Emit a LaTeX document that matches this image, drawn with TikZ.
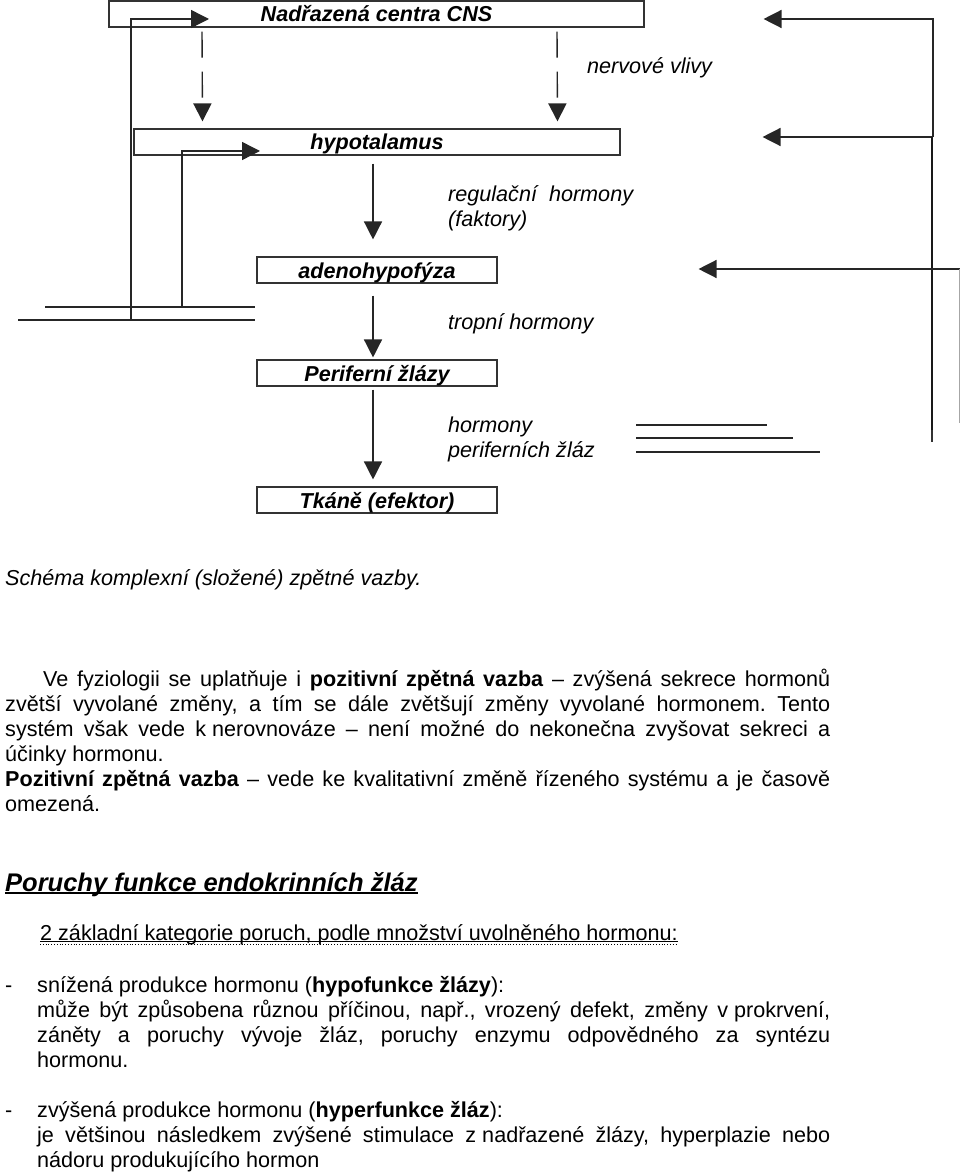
\documentclass[tikz,border=0pt]{standalone}
\usepackage{fontspec}
\setmainfont{Liberation Sans}
\usepackage{tikz}
\usetikzlibrary{positioning,calc,arrows.meta}
\newcommand{\fsp}{\hspace{0.278em}}
\tolerance=10000
\hyphenpenalty=10000
\hbadness=10000
\frenchspacing

\begin{document}
\begin{tikzpicture}[x=1pt,y=-1pt,
    font=\fontsize{21.6pt}{25pt}\selectfont,
    box/.style={draw=black!80,line width=1.1pt,minimum height=26pt,inner sep=0pt,
        text height=16pt,text depth=0pt,font=\fontsize{21.6pt}{25pt}\selectfont\bfseries\itshape},
    flow/.style={draw=black!85,line width=1.4pt,-{Triangle[length=18pt,width=18pt]}},
    nerve/.style={flow,dash pattern=on 26pt off 14pt},
    wire/.style={draw=black!85,line width=1.4pt},
    lbl/.style={anchor=base west,inner sep=0pt,align=left,
        font=\fontsize{21.6pt}{25pt}\selectfont\itshape},
    para/.style={anchor=base west,inner sep=0pt,align=justify}]
    \useasboundingbox (0,0) rectangle (960,1174);

    \node[box,minimum width=535pt] (cns) at (376.5,14) {Nadřazená centra CNS};
    \node[box,minimum width=486pt] (hypo) at (377,142) {hypotalamus};
    \node[box,minimum width=240pt] (adeno) at (377,270) {adenohypofýza};
    \node[box,minimum width=240pt] (perif) at (377,373) {Periferní žlázy};
    \node[box,minimum width=240pt] (tkane) at (377,500) {Tkáně (efektor)};

    \node[lbl] (nerv) at (587,74) {nervové vlivy};
    \node[lbl] (reg) at (448,227) {regulační\ \ hormony\\(faktory)};
    \node[lbl] (trop) at (448,329) {tropní hormony};
    \node[lbl] (perh) at (448,457) {hormony\\periferních žláz};

    \draw[nerve] ([xshift=-174.5pt,yshift=-4pt]cns.south) -- ([xshift=-174.5pt,yshift=7pt]hypo.north);
    \draw[nerve] ([xshift=180.5pt,yshift=-4pt]cns.south) -- ([xshift=180.5pt,yshift=7pt]hypo.north);
    \draw[flow] ([xshift=-4pt,yshift=-8pt]hypo.south) -- ([xshift=-4pt,yshift=17pt]adeno.north);
    \draw[flow] ([xshift=-4pt,yshift=-12pt]adeno.south) -- ([xshift=-4pt,yshift=2pt]perif.north);
    \draw[flow] ([xshift=-4pt,yshift=-3pt]perif.south) -- ([xshift=-4pt,yshift=7pt]tkane.north);

    \coordinate (fbL1) at (131,320);
    \coordinate (fbL2) at (182,307);
    \draw[wire] (18,320) -- (255,320);
    \draw[wire] (45,307) -- (255,307);
    \draw[flow] (fbL1) |- ([xshift=-167.5pt,yshift=-5pt]cns.center);
    \draw[flow] (fbL2) |- ([xshift=-117pt,yshift=-9pt]hypo.center);

    \coordinate (fbR1) at (933,137);
    \coordinate (fbR2) at (960,269);
    \draw[flow] (fbR1) |- ([xshift=119pt,yshift=-5pt]cns.east);
    \draw[flow] (fbR1) -- ([xshift=142pt,yshift=5pt]hypo.east);
    \draw[draw=black!90,line width=2.8pt] (932,137) -- (932,432);
    \draw[draw=black!80,line width=1.2pt] (932,430) -- (932,442);
    \draw[flow] (fbR2) -- ([xshift=201pt,yshift=1pt]adeno.east);
    \draw[black!35,line width=0.6pt] (959,269) -- (959,423);

    \draw[wire] (636,425) -- (767,425);
    \draw[wire] (636,438) -- (793,438);
    \draw[wire] (636,452) -- (820,452);

    \node[lbl] (cap) at (5,585) {Schéma komplexní (složené) zpětné vazby.};

    \node[para,text width=825pt] (posfb) at (5,686) {\noindent\hspace*{38pt}Ve fyziologii se uplatňuje i \textbf{pozitivní zpětná vazba} – zvýšená sekrece hormonů\linebreak
        zvětší vyvolané změny, a tím se dále zvětšují změny vyvolané hormonem. Tento\linebreak
        systém však vede k\fsp nerovnováze – není možné do nekonečna zvyšovat sekreci a\linebreak
        účinky hormonu.\par
        \noindent\textbf{Pozitivní zpětná vazba} – vede ke kvalitativní změně řízeného systému a je časově\linebreak
        omezená.};

    \node[anchor=base west,inner sep=0pt,font=\fontsize{25.5pt}{30pt}\selectfont\bfseries\itshape] (dis) at (5,891) {Poruchy funkce endokrinních žláz};
    \draw[line width=1.5pt] ([yshift=-2pt]dis.base west) -- ([yshift=-2pt]dis.base east);

    \node[anchor=base west,inner sep=0pt] (cat) at (40,940) {2 základní kategorie poruch, podle množství uvolněného hormonu:};
    \draw[line width=0.8pt] ([yshift=-1.5pt]cat.base west) -- ([yshift=-1.5pt]cat.base east);
    \draw[line width=0.8pt,dotted] ([yshift=-4.5pt]cat.base west) -- ([yshift=-4.5pt]cat.base east);

    \node[anchor=base west,inner sep=0pt] (dash1) at (5,992) {-};
    \node[para,text width=793pt] (hypof) at (37,992) {\noindent snížená produkce hormonu (\textbf{hypofunkce žlázy}):\\
        může být způsobena různou příčinou, např.,\ vrozený defekt, změny v\fsp prokrvení,\linebreak
        záněty a poruchy vývoje žláz, poruchy enzymu odpovědného za syntézu\linebreak
        hormonu.};

    \node[anchor=base west,inner sep=0pt] (dash2) at (5,1117) {-};
    \node[para,text width=793pt] (hyperf) at (37,1117) {\noindent zvýšená produkce hormonu (\textbf{hyperfunkce žláz}):\\
        je většinou následkem zvýšené stimulace z\fsp nadřazené žlázy, hyperplazie nebo\linebreak
        nádoru produkujícího hormon};
\end{tikzpicture}
\end{document}
